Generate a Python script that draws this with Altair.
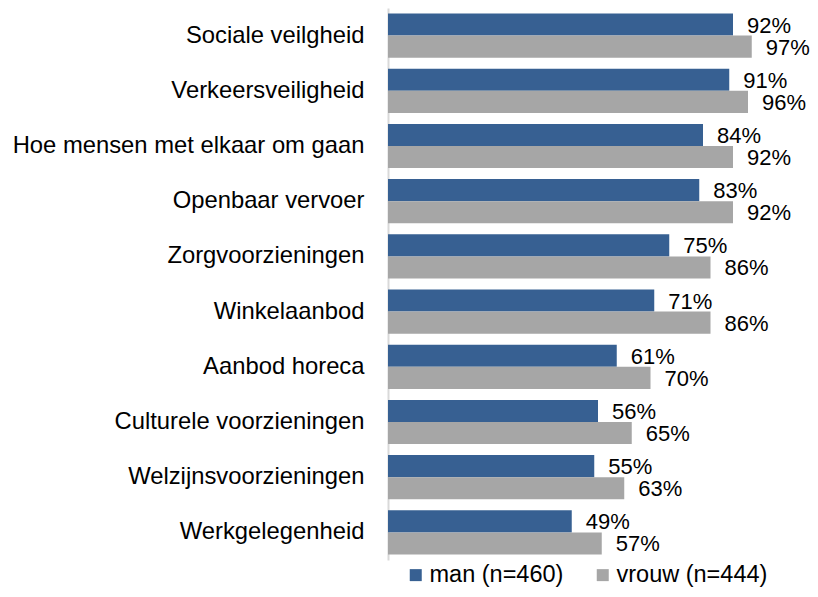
import altair as alt
import pandas as pd

categories = ["Sociale veilgheid", "Verkeersveiligheid", "Hoe mensen met elkaar om gaan",
              "Openbaar vervoer", "Zorgvoorzieningen", "Winkelaanbod", "Aanbod horeca",
              "Culturele voorzieningen", "Welzijnsvoorzieningen", "Werkgelegenheid"]
man = [92, 91, 84, 83, 75, 71, 61, 56, 55, 49]
vrouw = [97, 96, 92, 92, 86, 86, 70, 65, 63, 57]
series = ["man (n=460)", "vrouw (n=444)"]
colors = ["#376092", "#A6A6A6"]

rows = []
for c, m, v in zip(categories, man, vrouw):
    rows.append({"cat": c, "serie": series[0], "val": m})
    rows.append({"cat": c, "serie": series[1], "val": v})
df = pd.DataFrame(rows)
df["label"] = df["val"].astype(str) + "%"

FONT = "Liberation Sans"

y = alt.Y("cat:N", sort=categories,
          scale=alt.Scale(paddingInner=0.2, paddingOuter=0.1),
          axis=alt.Axis(title=None, ticks=False, labelPadding=24, labelFontSize=23.8,
                        labelFont=FONT, labelColor="#000000", domainColor="#D9D9D9",
                        domainWidth=2, labelLimit=600, grid=False))
yoff = alt.YOffset("serie:N", sort=series, scale=alt.Scale(paddingInner=0, paddingOuter=0))
x = alt.X("val:Q", scale=alt.Scale(domain=[0, 100]), axis=None)

bars = alt.Chart(df).mark_bar().encode(
    x=x, y=y, yOffset=yoff,
    color=alt.Color("serie:N", scale=alt.Scale(domain=series, range=colors),
                    legend=alt.Legend(title=None, orient="none", direction="horizontal",
                                      legendX=16, legendY=555, padding=0,
                                      symbolType="square", symbolSize=144,
                                      symbolStrokeWidth=0, labelFont=FONT,
                                      labelFontSize=23.5, labelColor="#000000",
                                      labelOffset=2, columnPadding=27, labelLimit=400))
)

text = alt.Chart(df).mark_text(align="left", baseline="middle", dx=14, dy=1,
                               fontSize=22, font=FONT, color="#000000").encode(
    x=x, y=y, yOffset=yoff, text="label:N"
)

chart = (bars + text).properties(
    width=375, height=552,
    autosize=alt.AutoSizeParams(type="none"),
    padding={"left": 380, "top": 0, "right": 47, "bottom": 29}
).configure_view(stroke=None)

chart.save("out.html", embed_options={"renderer": "svg", "actions": False})
